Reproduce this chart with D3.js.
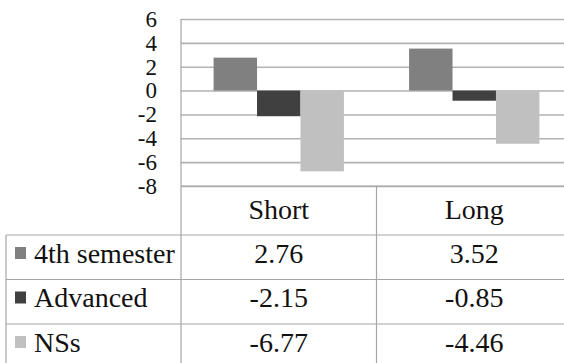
<!DOCTYPE html>
<html>
<head>
<meta charset="utf-8">
<script src="https://cdn.jsdelivr.net/npm/d3@7"></script>
<style>
  html, body { margin: 0; padding: 0; background: #fff; }
  svg { display: block; }
  text { font-family: "Liberation Serif", "DejaVu Serif", "Times New Roman", Times, serif; fill: #111; }
</style>
</head>
<body>
<svg id="chart" width="564" height="363"></svg>
<script>
// Conditions (columns of the data table) and the three learner groups
const categories = ["Short", "Long"];
const seriesNames = ["4th semester", "Advanced", "NSs"];
const fourthSemester = [2.76, 3.52];
const advanced = [-2.15, -0.85];
const nss = [-6.77, -4.46];
const yTicks = [6, 4, 2, 0, -2, -4, -6, -8];

const seriesValues = [fourthSemester, advanced, nss];
const seriesColors = ["#808080", "#404040", "#c0c0c0"];
const serif = "'Liberation Serif', 'DejaVu Serif', 'Times New Roman', Times, serif";

const svg = d3.select("#chart");

// Layout of plot area and data table beneath it
const plotLeft = 181, plotRight = 572;
const plotTop = 19, plotBottom = 186;
const tableLeft = 6;
const headerBottom = 235;
const rowHeight = 44.5;
const tableBottom = headerBottom + rowHeight * 3;

const x = d3.scaleBand().domain(categories).range([plotLeft, plotRight]).padding(0);
const xInner = d3.scaleBand().domain(seriesNames).range([0, x.bandwidth()])
  .paddingInner(0).paddingOuter(0.75);
const y = d3.scaleLinear().domain([-8, 6]).range([plotBottom, plotTop]);

// Horizontal gridlines and tick labels
const yAxis = d3.axisLeft(y)
  .tickValues(yTicks)
  .tickFormat(d => String(d))
  .tickSizeInner(-(plotRight - plotLeft))
  .tickSizeOuter(0)
  .tickPadding(24);

const gAxis = svg.append("g")
  .attr("transform", `translate(${plotLeft},0)`)
  .call(yAxis)
  .attr("font-family", serif)
  .attr("font-size", 23);
gAxis.select(".domain").remove();
gAxis.selectAll(".tick line").attr("stroke", "#b2b2b2").attr("stroke-width", 1.6);
gAxis.selectAll(".tick text")
  .attr("fill", "#111")
  .style("font-family", serif)
  .style("font-size", "23px");

// Bars
const groups = svg.append("g").selectAll("g")
  .data(categories)
  .join("g")
  .attr("transform", d => `translate(${x(d)},0)`);

groups.selectAll("rect")
  .data((cat, ci) => seriesNames.map((s, si) => ({ s, si, v: seriesValues[si][ci] })))
  .join("rect")
  .attr("x", d => xInner(d.s))
  .attr("width", xInner.bandwidth())
  .attr("y", d => y(Math.max(0, d.v)))
  .attr("height", d => Math.abs(y(d.v) - y(0)))
  .attr("fill", d => seriesColors[d.si]);

// Data table lines
const lineColor = "#a6a6a6";
const lines = svg.append("g").attr("stroke", lineColor).attr("stroke-width", 1.2);

// left vertical edge of the plot, running down through the table
lines.append("line")
  .attr("x1", plotLeft).attr("x2", plotLeft)
  .attr("y1", plotTop).attr("y2", tableBottom);

// column separators inside the table
categories.slice(1).forEach(c => {
  lines.append("line")
    .attr("x1", x(c)).attr("x2", x(c))
    .attr("y1", plotBottom).attr("y2", tableBottom);
});

// table top border under the header cells
lines.append("line")
  .attr("x1", plotLeft).attr("x2", plotRight)
  .attr("y1", plotBottom).attr("y2", plotBottom);

// row borders
d3.range(4).forEach(i => {
  const yy = headerBottom + i * rowHeight;
  lines.append("line")
    .attr("x1", tableLeft).attr("x2", plotRight)
    .attr("y1", yy).attr("y2", yy);
});

// table left edge
lines.append("line")
  .attr("x1", tableLeft).attr("x2", tableLeft)
  .attr("y1", headerBottom).attr("y2", tableBottom);

const textLayer = svg.append("g").style("font-family", serif).attr("font-size", 28);

// Header labels
textLayer.selectAll("text.head")
  .data(categories)
  .join("text")
  .attr("class", "head")
  .attr("x", d => x(d) + x.bandwidth() / 2)
  .attr("y", plotBottom + 33)
  .attr("text-anchor", "middle")
  .text(d => d);

// Rows: legend key, series name, values
seriesNames.forEach((name, si) => {
  const top = headerBottom + si * rowHeight;
  svg.append("rect")
    .attr("x", 15).attr("y", top + 12)
    .attr("width", 11).attr("height", 12)
    .attr("fill", seriesColors[si]);
  textLayer.append("text")
    .attr("x", 34).attr("y", top + 27.5)
    .text(name);
  categories.forEach((c, ci) => {
    textLayer.append("text")
      .attr("x", x(c) + x.bandwidth() / 2)
      .attr("y", top + 27.5)
      .attr("text-anchor", "middle")
      .text(seriesValues[si][ci].toFixed(2));
  });
});
</script>
</body>
</html>
